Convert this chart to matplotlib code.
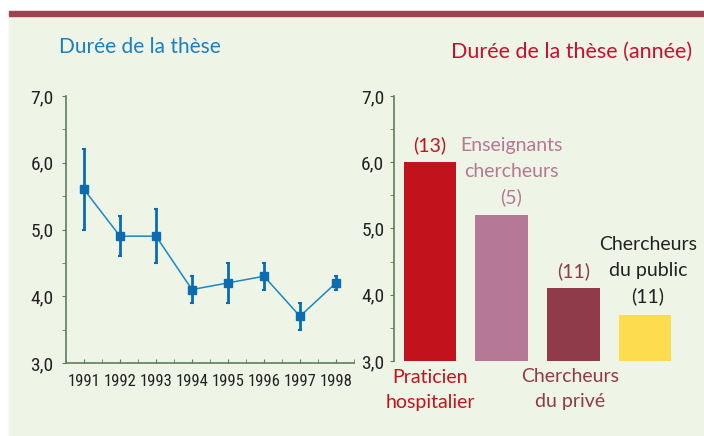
import matplotlib.pyplot as plt
from matplotlib.patches import Rectangle
from matplotlib.ticker import MultipleLocator, FuncFormatter
from matplotlib import font_manager

# left panel: thesis duration by year
years = [1991, 1992, 1993, 1994, 1995, 1996, 1997, 1998]
duree = [5.6, 4.9, 4.9, 4.1, 4.2, 4.3, 3.7, 4.2]
err_low = [5.0, 4.6, 4.5, 3.9, 3.9, 4.1, 3.5, 4.1]
err_high = [6.2, 5.2, 5.3, 4.3, 4.5, 4.5, 3.9, 4.3]

# right panel: thesis duration by career
groupes = ["Praticien hospitalier", "Enseignants chercheurs", "Chercheurs du privé", "Chercheurs du public"]
duree_groupe = [6.0, 5.2, 4.1, 3.7]
effectifs = [13, 5, 11, 11]
couleurs = ["#C2131D", "#B57896", "#8F3B4A", "#FDDC4D"]

W, H = 704, 436
plt.rcParams['font.family'] = ['Lato', 'DejaVu Sans']

names = sorted({f.name for f in font_manager.fontManager.ttflist})
narrow = "Liberation Sans Narrow" if "Liberation Sans Narrow" in names else "Roboto Condensed"
if narrow not in names:
    narrow = "Lato"

fig = plt.figure(figsize=(W / 100, H / 100), dpi=100)
fig.patch.set_facecolor("white")

def fx(px):
    return px / W

def fy(py):
    return 1 - py / H

# background and top band
fig.patches.append(Rectangle((fx(9), 0), 1 - fx(9), fy(16), transform=fig.transFigure,
                             color="#EEF4E6", zorder=-10))
fig.patches.append(Rectangle((fx(9), fy(16)), 1 - fx(9), fy(11) - fy(16), transform=fig.transFigure,
                             color="#9B4450", zorder=-10))

axis_col = "#5E7F58"
virgule = FuncFormatter(lambda v, p: f"{v:.1f}".replace(".", ","))

# ---- left chart
ax1 = fig.add_axes([fx(66), fy(363), fx(354) - fx(66), fy(96) - fy(363)])
ax1.patch.set_alpha(0)
ax1.set_zorder(2)
yerr = [[d - lo for d, lo in zip(duree, err_low)], [hi - d for d, hi in zip(duree, err_high)]]
ax1.errorbar(years, duree, yerr=yerr, fmt="none", ecolor="#0B6DB0", elinewidth=2,
             capsize=1.5, capthick=1.5, zorder=2)
ax1.plot(years, duree, color="#1A87C9", lw=1.1, marker="s", ms=5.5,
         mfc="#0B6DB0", mec="#0B6DB0", zorder=3)
ax1.set_xlim(1990.5, 1998.5)
ax1.set_ylim(3, 7)
ax1.set_xticks(years)
ax1.xaxis.set_minor_locator(MultipleLocator(0.5))
ax1.yaxis.set_major_locator(MultipleLocator(1))
ax1.yaxis.set_minor_locator(MultipleLocator(0.5))
ax1.yaxis.set_major_formatter(virgule)
for s in ["top", "right"]:
    ax1.spines[s].set_visible(False)
for s in ["left", "bottom"]:
    ax1.spines[s].set_color(axis_col)
    ax1.spines[s].set_linewidth(1.2)
ax1.tick_params(axis="x", which="both", direction="in", length=3, color=axis_col,
                labelsize=12, labelcolor="#222222", pad=8)
ax1.tick_params(axis="y", which="both", direction="out", length=3, color=axis_col,
                labelsize=14, labelcolor="#222222", pad=6)
for lab in ax1.get_xticklabels() + ax1.get_yticklabels():
    lab.set_family([narrow, 'DejaVu Sans'])

fig.text(fx(140), fy(47), "Durée de la thèse", color="#1A80C4", fontsize=15,
         ha="center", va="center")

# ---- right chart
ax2 = fig.add_axes([fx(394), fy(361), fx(704) - fx(394), fy(96) - fy(361)])
ax2.patch.set_alpha(0)
ax2.set_zorder(2)
pos = list(range(len(groupes)))
ax2.bar(pos, [d - 3 for d in duree_groupe], bottom=3, width=0.73, color=couleurs, zorder=2)
ax2.set_xlim(-0.5, 3.82)
ax2.set_ylim(3, 7)
ax2.set_xticks([])
ax2.yaxis.set_major_locator(MultipleLocator(1))
ax2.yaxis.set_minor_locator(MultipleLocator(0.5))
ax2.yaxis.set_major_formatter(virgule)
for s in ["top", "right", "bottom"]:
    ax2.spines[s].set_visible(False)
ax2.spines["left"].set_color(axis_col)
ax2.spines["left"].set_linewidth(1.2)
ax2.tick_params(axis="y", which="both", direction="out", length=3, color=axis_col,
                labelsize=14, labelcolor="#222222", pad=4)
for lab in ax2.get_yticklabels():
    lab.set_family([narrow, 'DejaVu Sans'])

fs = 14
ls = 1.6
# labels above bars
ax2.text(0, 6.12, f"({effectifs[0]})", color="#C2131D", fontsize=fs, ha="center", va="bottom")
ax2.text(1.13, 5.33, f"Enseignants\nchercheurs\n({effectifs[1]})", color="#B57896",
         fontsize=fs, ha="center", va="bottom", linespacing=ls)
ax2.text(2, 4.22, f"({effectifs[2]})", color="#8F3B4A", fontsize=fs, ha="center", va="bottom")
ax2.text(3.04, 3.84, f"Chercheurs\ndu public\n({effectifs[3]})", color="#222222",
         fontsize=fs, ha="center", va="bottom", linespacing=ls)
# labels below bars
ax2.text(0, 2.88, "Praticien\nhospitalier", color="#C2131D", fontsize=fs,
         ha="center", va="top", linespacing=ls)
ax2.text(1.96, 2.9, "Chercheurs\ndu privé", color="#8F3B4A", fontsize=fs,
         ha="center", va="top", linespacing=ls)

fig.text(fx(572), fy(52), "Durée de la thèse (année)", color="#C8102E", fontsize=15.5,
         ha="center", va="center")

fig.savefig("out.png", dpi=100, facecolor=fig.get_facecolor())
